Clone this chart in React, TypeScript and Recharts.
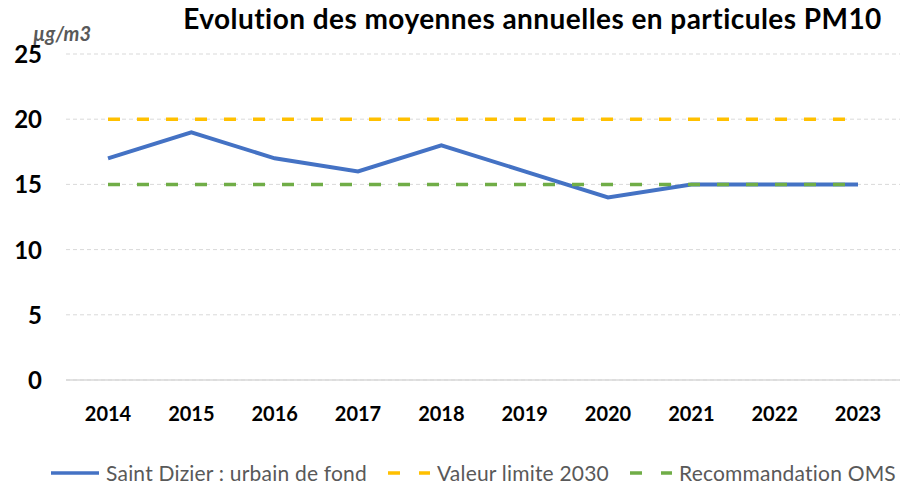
import React from 'react';
import { LineChart, Line, XAxis, YAxis, CartesianGrid, Legend } from 'recharts';

const years = ['2014', '2015', '2016', '2017', '2018', '2019', '2020', '2021', '2022', '2023'];
const saintDizier = [17, 19, 17, 16, 18, 16, 14, 15, 15, 15];
const valeurLimite = [20, 20, 20, 20, 20, 20, 20, 20, 20, 20];
const recommandationOms = [15, 15, 15, 15, 15, 15, 15, 15, 15, 15];
const yTicks = [0, 5, 10, 15, 20, 25];

const data = years.map((year, i) => ({
  year,
  sd: saintDizier[i],
  limite: valeurLimite[i],
  oms: recommandationOms[i],
}));

const FONT = 'Lato, "Open Sans", sans-serif';

const legendItems = [
  { label: 'Saint Dizier : urbain de fond', color: '#4472C4', dash: undefined as string | undefined, w: 50 },
  { label: 'Valeur limite 2030', color: '#FFC000', dash: '12 19', w: 44 },
  { label: 'Recommandation OMS', color: '#70AD47', dash: '12 19', w: 44 },
];

function ChartLegend() {
  return (
    <div style={{ display: 'flex', justifyContent: 'center', alignItems: 'center', fontFamily: FONT, fontSize: 21, letterSpacing: 0.2, color: '#595959', paddingLeft: 46, paddingTop: 10 }}>
      {legendItems.map((item, i) => (
        <div key={item.label} style={{ display: 'flex', alignItems: 'center', marginRight: i < legendItems.length - 1 ? 20 : 0 }}>
          <svg width={item.w} height={10} style={{ marginRight: 6 }}>
            <line x1={1} y1={5} x2={item.w - 1} y2={5} stroke={item.color} strokeWidth={3.5} strokeDasharray={item.dash} />
          </svg>
          <span>{item.label}</span>
        </div>
      ))}
    </div>
  );
}

function YTick({ y, payload }: any) {
  return (
    <text x={42} y={y} dy={9} textAnchor="end" fontFamily={FONT} fontWeight={700} fontSize={24} fill="#000">
      {payload.value}
    </text>
  );
}

function XTick({ x, y, payload }: any) {
  return (
    <text x={x} y={y + 33} textAnchor="middle" fontFamily={FONT} fontWeight={700} fontSize={20} fill="#000">
      {payload.value}
    </text>
  );
}

export default function App() {
  return (
    <div style={{ position: 'absolute', left: 0, top: 0, width: 900, height: 486, background: '#fff' }}>
      <div style={{ position: 'absolute', left: 180, width: 705, top: 1, textAlign: 'center', whiteSpace: 'nowrap', fontFamily: FONT, fontWeight: 700, fontSize: 28, letterSpacing: 0.45, color: '#000' }}>
        Evolution des moyennes annuelles en particules PM10
      </div>
      <div style={{ position: 'absolute', left: 33, top: 21, fontFamily: FONT, fontStyle: 'italic', fontWeight: 700, fontSize: 20, color: '#595959' }}>
        µg/m3
      </div>
      <LineChart width={900} height={486} data={data} margin={{ top: 54, right: 0, left: 0, bottom: 0 }}>
        <CartesianGrid vertical={false} stroke="#d9d9d9" strokeDasharray="4 3" />
        <XAxis dataKey="year" height={70} padding={{ left: 42, right: 42 }} axisLine={{ stroke: '#d9d9d9', strokeWidth: 1.5 }} tickLine={false} tick={<XTick />} />
        <YAxis width={66} domain={[0, 25]} ticks={yTicks} axisLine={false} tickLine={false} tick={<YTick />} />
        <Legend verticalAlign="bottom" height={36} content={<ChartLegend />} />
        <Line dataKey="sd" stroke="#4472C4" strokeWidth={4} dot={false} isAnimationActive={false} />
        <Line dataKey="limite" stroke="#FFC000" strokeWidth={3.5} strokeDasharray="12 17" dot={false} isAnimationActive={false} />
        <Line dataKey="oms" stroke="#70AD47" strokeWidth={3.5} strokeDasharray="12 17" dot={false} isAnimationActive={false} />
      </LineChart>
    </div>
  );
}
